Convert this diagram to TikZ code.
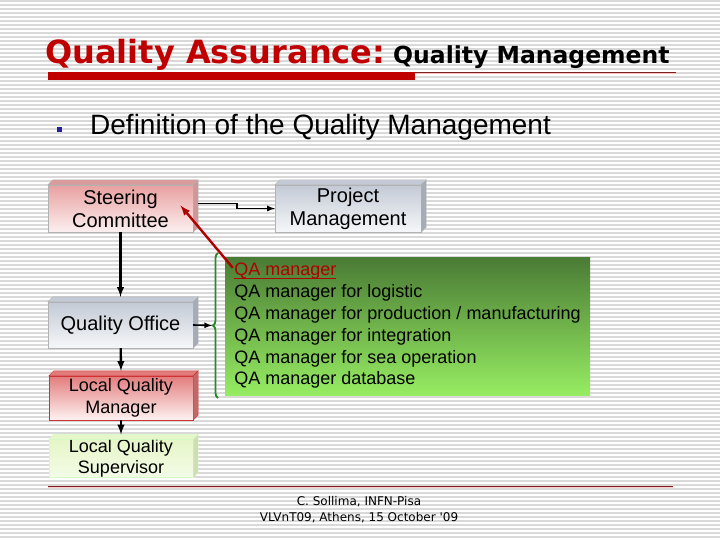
\documentclass[tikz,border=0pt]{standalone}
\usepackage{fontspec}
\setmainfont{Liberation Sans}
\newfontfamily\verdana{DejaVu Sans}
\usepackage{tikz}
\usetikzlibrary{arrows}
\usetikzlibrary{positioning}
\usetikzlibrary{decorations.pathreplacing}
\tikzset{>=latex}

\definecolor{titlered}{HTML}{C00000}
\definecolor{darkline}{HTML}{7A1F1F}
\definecolor{bulletblue}{HTML}{1F1F9F}
\definecolor{steertop}{HTML}{E9A0A0}
\definecolor{steerbot}{HTML}{FCF0F0}
\definecolor{greytop}{HTML}{C3CAD5}
\definecolor{greybot}{HTML}{F6F7F9}
\definecolor{lqmtop}{HTML}{E27C7C}
\definecolor{lqmbot}{HTML}{FFF2F2}
\definecolor{lqstop}{HTML}{E6F6C8}
\definecolor{lqsbot}{HTML}{F3FBE6}
\definecolor{qatop}{HTML}{4A7B35}
\definecolor{qabot}{HTML}{96EC62}
\definecolor{bracegreen}{HTML}{2A8A2A}
\definecolor{qared}{HTML}{B00000}

% 3d edge on top and right of a box node
\newcommand{\bevel}[4]{%
  \filldraw[fill=#2,draw=#4] (#1.north west) -- ([shift={(5,-5)}]#1.north west)
    -- ([shift={(5,-5)}]#1.north east) -- (#1.north east) -- cycle;
  \filldraw[fill=#3,draw=#4] (#1.north east) -- ([shift={(5,-5)}]#1.north east)
    -- ([shift={(5,-5)}]#1.south east) -- (#1.south east) -- cycle;
}
% underlined red link text
\newsavebox{\qabox}
\newcommand{\qalink}[1]{\sbox{\qabox}{\color{qared}#1}%
  {\color{qared}\rlap{\rule[-3pt]{\wd\qabox}{1.4pt}}}\usebox{\qabox}}

\begin{document}
\begin{tikzpicture}[x=1pt,y=-1pt,
    box/.style={rectangle,draw,inner sep=0pt,minimum width=145pt,align=center},
    flow/.style={->,line width=2.3pt},
    stripe/.style={gray!30,line width=1.3pt}]
    \useasboundingbox (0,0) rectangle (720,540);
    \fill[white] (0,0) rectangle (720,540);
    \foreach \y in {1,5,...,537}
      \draw[stripe] (0,\y) -- (720,\y);

    % title
    \node at (45,64) [anchor=base west,inner sep=0pt,text=titlered,font=\verdana\bfseries\fontsize{32}{38}\selectfont] (title) {Quality Assurance:};
    \node at (393,64) [anchor=base west,inner sep=0pt,font=\verdana\bfseries\fontsize{23.5}{28}\selectfont] (subtitle) {Quality Management};
    \fill[titlered] (48,72.5) rectangle (415,80);
    \draw[darkline,line width=1pt] (415,73) -- (676,73);
    \draw[red!25,line width=1pt] (415,74) -- (676,74);

    \fill[bulletblue] (56.5,127) rectangle (61.5,132);
    \node at (90,135) [anchor=base west,inner sep=0pt,font=\fontsize{28}{34}\selectfont] (defn) {Definition of the Quality Management};

    % boxes
    \node at (120.5,208.5) [box,draw=gray!60,top color=steertop,bottom color=steerbot,minimum height=47pt,font=\fontsize{20}{23}\selectfont] (steer) {Steering\\Committee};
    \node at (348,208.5) [box,draw=gray!60,top color=greytop,bottom color=greybot,minimum width=146pt,minimum height=47pt,font=\fontsize{20}{23}\selectfont] (proj) {Project\\Management};
    \node at (120.5,325) [box,draw=gray!60,top color=greytop,bottom color=greybot,minimum height=46pt,font=\fontsize{20}{24}\selectfont] (qoff) {Quality Office};
    \node at (121,398) [box,draw=titlered!80,top color=lqmtop,bottom color=lqmbot,minimum width=144pt,minimum height=44pt,font=\fontsize{18}{22}\selectfont] (lqm) {Local Quality\\Manager};
    \node at (121,458.5) [box,draw=lqstop!80!green!60,top color=lqstop,bottom color=lqsbot,minimum width=144pt,minimum height=37pt,font=\fontsize{18}{21}\selectfont] (lqs) {Local Quality\\Supervisor};
    \bevel{steer}{steertop!85!gray}{steertop!75!gray}{gray!60}
    \bevel{proj}{greytop}{greytop!85!black}{gray!60}
    \bevel{qoff}{greytop}{greytop!85!black}{gray!60}
    \bevel{lqm}{lqmtop}{lqmtop!85!black}{titlered!80}
    \bevel{lqs}{lqstop}{lqstop!90!black}{lqstop!80!green!60}

    \node at (407.5,326) [rectangle,inner xsep=8pt,inner ysep=0pt,minimum width=365pt,minimum height=138pt,align=left,top color=qatop,bottom color=qabot,font=\fontsize{18}{21.8}\selectfont] (qa) {\qalink{QA manager}\\
      QA manager for logistic\\
      QA manager for production / manufacturing\\
      QA manager for integration\\
      QA manager for sea operation\\
      QA manager database};

    % connectors
    \draw [flow] (steer) to ([yshift=5pt]qoff.north);
    \draw [flow] (qoff) to ([yshift=5pt]lqm.north);
    \draw [flow] (lqm) to ([yshift=5pt]lqs.north);
    \draw [->,line width=1.6pt] ([shift={(5,-5)}]steer.east) -- ++(39,0) |- (proj.west);
    \draw [decorate,decoration={brace,amplitude=5pt},bracegreen,line width=1.8pt]
      (218,398) -- (218,253);
    \coordinate (brtip) at (212,325.5);
    \draw [->,line width=1.6pt] (qoff.east) to (brtip);
    \draw [->,qared,line width=2.4pt] ([shift={(8,11)}]qa.north west) to ([shift={(60,-3)}]steer.center);

    % footer
    \draw[darkline,line width=1pt] (48,486) -- (673,486);
    \draw[red!20,line width=1pt] (48,487.2) -- (673,487.2);
    \node at (359,510) [align=center,inner sep=0pt,font=\verdana\fontsize{12}{16}\selectfont] (foot) {C. Sollima, INFN-Pisa\\VLVnT09, Athens, 15 October '09};
\end{tikzpicture}
\end{document}
